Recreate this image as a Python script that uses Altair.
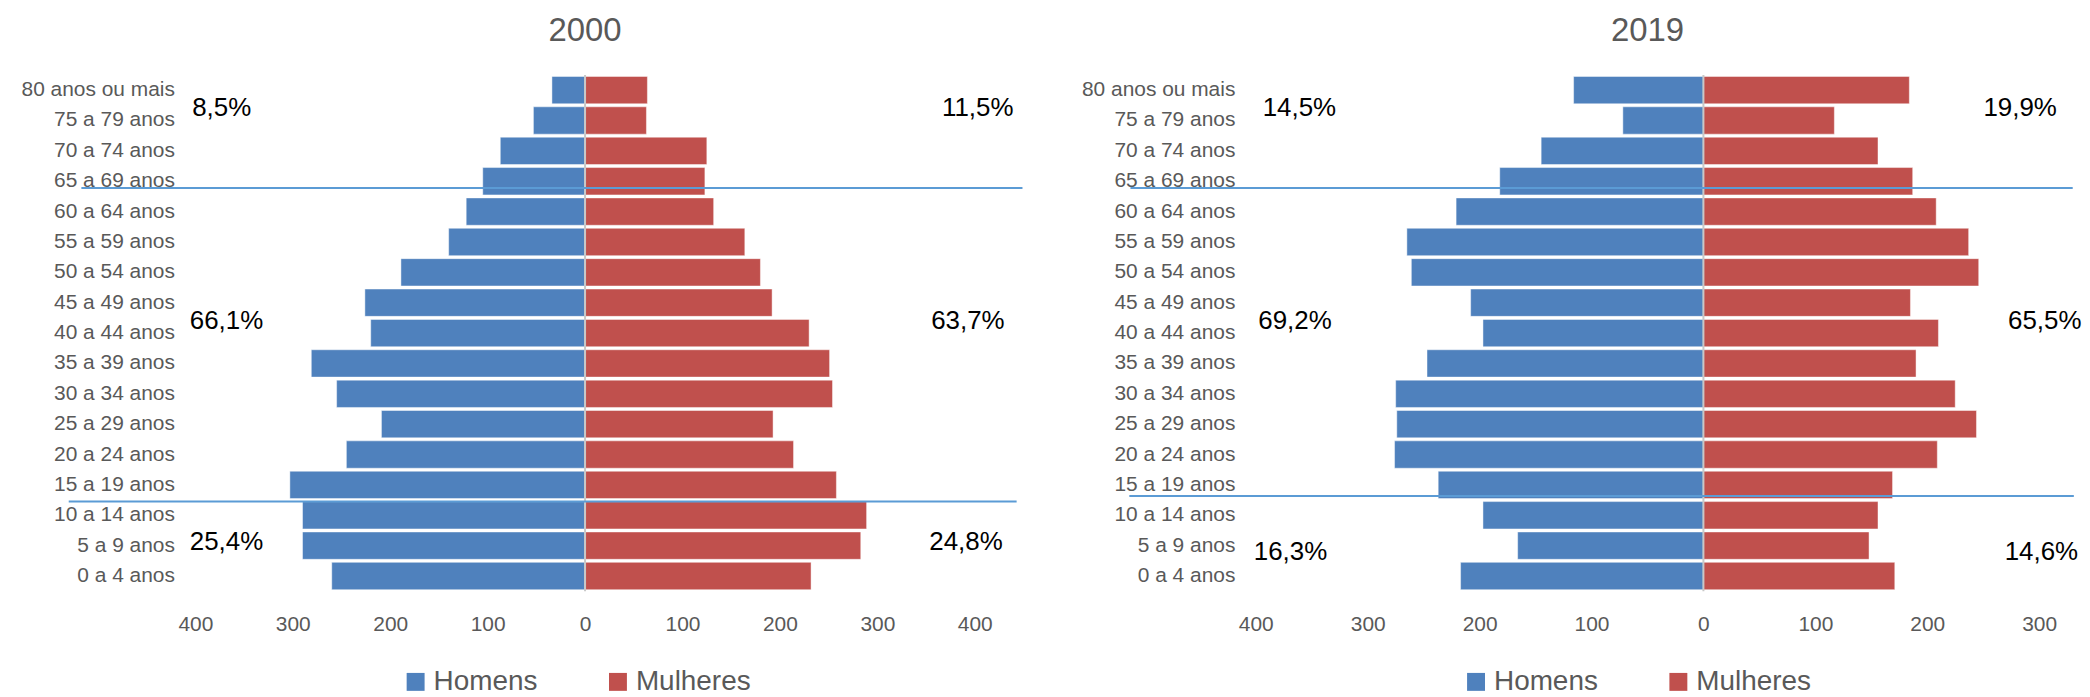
import altair as alt
import pandas as pd

FONT = "Liberation Sans"
AZUL = "#4F81BD"
VERMELHO = "#C0504D"
CINZA = "#595959"
LINHA = "#5B9BD5"

faixas = ["80 anos ou mais", "75 a 79 anos", "70 a 74 anos", "65 a 69 anos",
          "60 a 64 anos", "55 a 59 anos", "50 a 54 anos", "45 a 49 anos",
          "40 a 44 anos", "35 a 39 anos", "30 a 34 anos", "25 a 29 anos",
          "20 a 24 anos", "15 a 19 anos", "10 a 14 anos", "5 a 9 anos", "0 a 4 anos"]
sexos = ["Homens", "Mulheres"]

homens_2000 = [34, 53, 87, 105, 122, 140, 189, 226, 220, 281, 255, 209, 245, 303, 290, 290, 260]
mulheres_2000 = [64, 63, 125, 123, 132, 164, 180, 192, 230, 251, 254, 193, 214, 258, 289, 283, 232]
homens_2019 = [116, 72, 145, 182, 221, 265, 261, 208, 197, 247, 275, 274, 276, 237, 197, 166, 217]
mulheres_2019 = [184, 117, 156, 187, 208, 237, 246, 185, 210, 190, 225, 244, 209, 169, 156, 148, 171]

# percentage annotations (65+, 15-64, 0-14)
ancoras = ["75 a 79 anos", "40 a 44 anos", "5 a 9 anos"]
pct_h_2000 = ["8,5%", "66,1%", "25,4%"]
pct_m_2000 = ["11,5%", "63,7%", "24,8%"]
pct_h_2019 = ["14,5%", "69,2%", "16,3%"]
pct_m_2019 = ["19,9%", "65,5%", "14,6%"]
pos_h_2000 = [-373, -368, -368]
pos_m_2000 = [403, 393, 391]
pos_h_2019 = [-361, -365, -369]
pos_m_2019 = [283, 305, 302]

# separator lines
linhas_faixa_2000 = ["65 a 69 anos", "10 a 14 anos"]
linhas_faixa_2019 = ["65 a 69 anos", "15 a 19 anos"]
linhas_x1_2000 = [-517, -530]
linhas_x2_2000 = [449, 443]
linhas_x1_2019 = [-512, -513]
linhas_x2_2019 = [330, 331]

dominio_2000 = [-400, 400]
ticks_2000 = [-400, -300, -200, -100, 0, 100, 200, 300, 400]
dominio_2019 = [-400, 300]
ticks_2019 = [-400, -300, -200, -100, 0, 100, 200, 300]


def painel(titulo, homens, mulheres, pct_h, pct_m, pos_h, pos_m, lfx, lx1, lx2,
           dominio, ticks, largura, bp_linhas, bp_base):
    df = pd.DataFrame({
        "faixa": faixas * 2,
        "sexo": ["Homens"] * len(faixas) + ["Mulheres"] * len(faixas),
        "valor": list(homens) + list(mulheres),
    })
    df["pos"] = [(-v if s == "Homens" else v) for s, v in zip(df["sexo"], df["valor"])]

    xscale = alt.Scale(domain=dominio, nice=False, zero=False)
    xaxis = alt.Axis(values=ticks, labelExpr="abs(datum.value)", grid=False, ticks=False,
                     domain=False, labelPadding=22, labelFontSize=21, labelColor=CINZA,
                     labelFont=FONT, labelFlush=False, labelOverlap=False, title=None)
    yscale = alt.Scale(domain=faixas, paddingInner=0.1, paddingOuter=0.05)
    yaxis = alt.Axis(ticks=False, domain=False, labelPadding=21, labelFontSize=21,
                     labelColor=CINZA, labelFont=FONT, minExtent=188, maxExtent=188,
                     labelLimit=300, title=None)

    def Y(bp=None):
        if bp is None:
            return alt.Y("faixa:N", scale=yscale, axis=yaxis, sort=faixas)
        return alt.Y("faixa:N", scale=yscale, axis=yaxis, sort=faixas, bandPosition=bp)

    barras = alt.Chart(df).mark_bar(stroke="#FFFFFF", strokeOpacity=0.45, strokeWidth=1).encode(
        x=alt.X("pos:Q", scale=xscale, axis=xaxis),
        y=Y(),
        color=alt.Color("sexo:N", scale=alt.Scale(domain=sexos, range=[AZUL, VERMELHO]),
                        legend=alt.Legend(title=None, orient="none", legendX=207, legendY=595,
                                          direction="horizontal", symbolType="square",
                                          symbolSize=324, symbolStrokeWidth=0,
                                          labelFontSize=28, labelFont=FONT, labelColor=CINZA,
                                          columnPadding=66, labelOffset=4, padding=0)),
    )

    zero = alt.Chart(pd.DataFrame({"zero": [0]})).mark_rule(color="#C8C8C8", strokeWidth=2).encode(
        x=alt.X("zero:Q", scale=xscale, axis=xaxis)
    )

    camadas = [barras, zero]
    for f, a, b, bp in zip(lfx, lx1, lx2, bp_linhas):
        camadas.append(
            alt.Chart(pd.DataFrame({"faixa": [f], "x1": [a], "x2": [b]}))
            .mark_rule(color=LINHA, strokeWidth=2)
            .encode(x=alt.X("x1:Q", scale=xscale, axis=xaxis), x2="x2:Q", y=Y(bp))
        )

    rot = pd.DataFrame({
        "faixa": ancoras * 2,
        "rotulo": list(pct_h) + list(pct_m),
        "x": list(pos_h) + list(pos_m),
        "grupo": ["sup", "meio", "base"] * 2,
    })
    txt = dict(fontSize=26, font=FONT, color="black", align="center", baseline="middle")
    camadas.append(
        alt.Chart(rot[rot["grupo"] != "base"]).mark_text(**txt).encode(
            x=alt.X("x:Q", scale=xscale, axis=xaxis), y=Y(0.05), text="rotulo:N")
    )
    camadas.append(
        alt.Chart(rot[rot["grupo"] == "base"]).mark_text(**txt).encode(
            x=alt.X("x:Q", scale=xscale, axis=xaxis), y=Y(bp_base), text="rotulo:N")
    )

    return alt.layer(*camadas).properties(
        width=largura, height=518,
        title=alt.TitleParams(titulo, fontSize=33, font=FONT, color=CINZA, fontWeight="normal",
                              anchor="middle", frame="group", offset=-7, baseline="bottom"),
    )


p2000 = painel("2000", homens_2000, mulheres_2000, pct_h_2000, pct_m_2000, pos_h_2000, pos_m_2000,
               linhas_faixa_2000, linhas_x1_2000, linhas_x2_2000, dominio_2000, ticks_2000, 782,
               [0.75, 0.0], 0.36)
p2019 = painel("2019", homens_2019, mulheres_2019, pct_h_2019, pct_m_2019, pos_h_2019, pos_m_2019,
               linhas_faixa_2019, linhas_x1_2019, linhas_x2_2019, dominio_2019, ticks_2019, 786,
               [0.75, 0.91], 0.72)

chart = (
    alt.hconcat(p2000, p2019, spacing=282, bounds="flush")
    .resolve_scale(color="independent", x="independent", y="independent")
    .properties(padding={"top": 6, "left": 0, "right": 0, "bottom": 0}, background="white")
    .configure_view(stroke=None)
)

chart.save("out.html", embed_options={"renderer": "svg", "actions": False})
